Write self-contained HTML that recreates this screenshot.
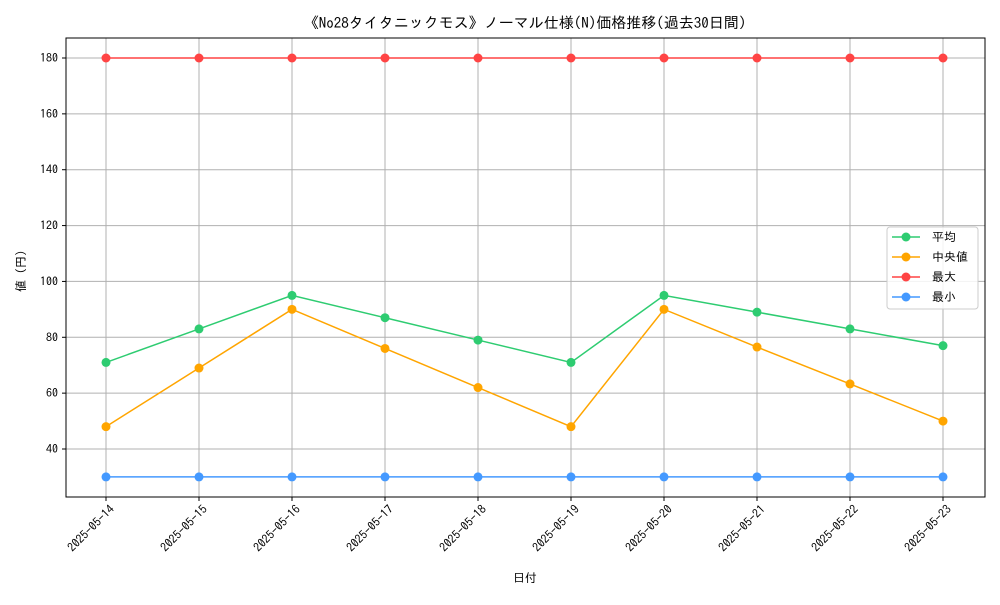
<!DOCTYPE html>
<html><head><meta charset="utf-8"><style>
html,body{margin:0;padding:0;background:#fff;}
svg text{font-family:"IPAGothic","Liberation Sans","Noto Sans CJK JP",sans-serif;fill:#000;}
</style></head><body>
<svg id="chart" width="1000" height="600" xmlns="http://www.w3.org/2000/svg">
<rect width="1000" height="600" fill="#fff"/>
<text x="525" y="28" font-size="15" text-anchor="middle">《No28タイタニックモス》ノーマル仕様(N)価格推移(過去30日間)</text>
<g id="grid"></g>
<g id="series"></g>
<rect x="66" y="38" width="919" height="459" fill="none" stroke="#000" stroke-width="1"/>
<g id="axes"></g>
<text x="525" y="582" font-size="12" text-anchor="middle">日付</text>
<text transform="translate(25,268) rotate(-90)" font-size="12" text-anchor="middle">値（円）</text>
<g id="legend">
<rect x="887" y="227" width="91" height="82" rx="3" fill="#fff" fill-opacity="0.85" stroke="#ccc"/>
</g>
</svg>
<script>
const categories=["2025-05-14","2025-05-15","2025-05-16","2025-05-17","2025-05-18","2025-05-19","2025-05-20","2025-05-21","2025-05-22","2025-05-23"];
const avgValues=[71,83,95,87,79,71,95,89,83,77];
const medianValues=[48,69,90,76,62,48,90,76.5,63.3,50];
const maxValues=[180,180,180,180,180,180,180,180,180,180];
const minValues=[30,30,30,30,30,30,30,30,30,30];
const yTicks=[40,60,80,100,120,140,160,180];
const seriesNames=["平均","中央値","最大","最小"];
const NS="http://www.w3.org/2000/svg";
function x(i){return 106+i*(943-106)/(categories.length-1);}
function y(v){return 449-(v-40)*(449-58)/140;}
function mk(tag,attrs,parent){const e=document.createElementNS(NS,tag);for(const k in attrs)e.setAttribute(k,attrs[k]);parent.appendChild(e);return e;}
const grid=document.getElementById('grid'),axes=document.getElementById('axes'),ser=document.getElementById('series'),leg=document.getElementById('legend');
yTicks.forEach(t=>{
 const l=mk('line',{x1:66,x2:985,y1:y(t),y2:y(t),stroke:'#b0b0b0','stroke-width':1},grid);
 
 
 mk('line',{x1:62,x2:66,y1:y(t),y2:y(t),stroke:'#000'},axes);
 const tx=mk('text',{x:58,y:y(t)+4,'font-size':12,'text-anchor':'end'},axes);tx.textContent=t;
 
 
});
categories.forEach((c,i)=>{
 const l=mk('line',{x1:x(i),x2:x(i),y1:38,y2:497,stroke:'#b0b0b0','stroke-width':1},grid);
 
 
 mk('line',{x1:x(i),x2:x(i),y1:497,y2:501,stroke:'#000'},axes);
 const tx=mk('text',{x:0,y:0,'font-size':12,'text-anchor':'end',transform:`translate(${x(i)+9},${510}) rotate(-45)`},axes);tx.textContent=c;
 
 
});
const all=[[avgValues,'#2ecc71'],[medianValues,'#ffa500'],[maxValues,'#ff4444'],[minValues,'#4499ff']];
all.forEach(([vals,col],s)=>{
 const g=mk('g',{},ser);
 
 
 mk('polyline',{points:vals.map((v,i)=>x(i)+','+y(v)).join(' '),fill:'none',stroke:col,'stroke-width':1.5},g);
 vals.forEach((v,i)=>{const c=mk('circle',{cx:x(i),cy:y(v),r:4.5,fill:col},g);
  
  });
 const ly=237+s*20;
 mk('line',{x1:892,x2:920,y1:ly,y2:ly,stroke:col,'stroke-width':1.5},leg);
 mk('circle',{cx:906,cy:ly,r:4.5,fill:col},leg);
 const t=mk('text',{x:932,y:ly+4,'font-size':12},leg);t.textContent=seriesNames[s];
 
 
});
</script>
</body></html>
